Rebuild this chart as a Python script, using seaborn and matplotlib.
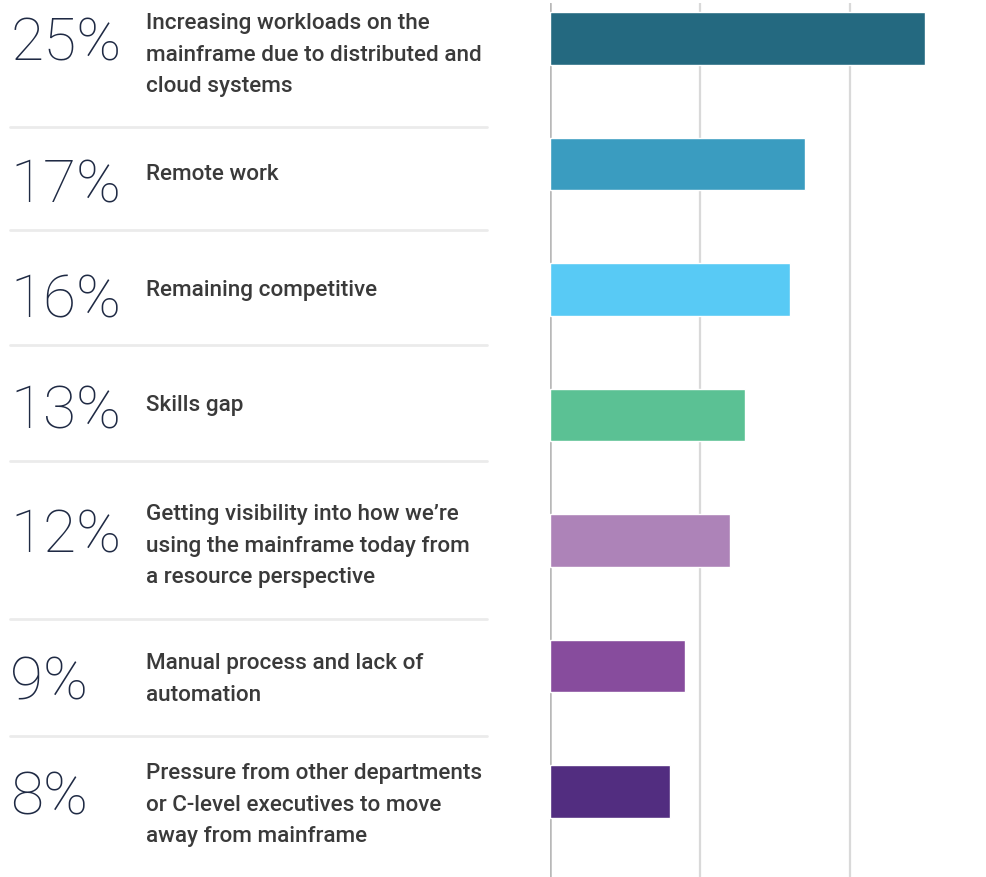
import numpy as np
import pandas as pd
import matplotlib
matplotlib.use("Agg")
import matplotlib.pyplot as plt
import seaborn as sns

# Dane z wykresu (% odpowiedzi)
udzialy = [25, 17, 16, 13, 12, 9, 8]
etykiety = [
    "Increasing workloads on the\nmainframe due to distributed and\ncloud systems",
    "Remote work",
    "Remaining competitive",
    "Skills gap",
    "Getting visibility into how we\u2019re\nusing the mainframe today from\na resource perspective",
    "Manual process and lack of\nautomation",
    "Pressure from other departments\nor C-level executives to move\naway from mainframe",
]
kolory = ["#246980", "#3A9CC0", "#58CAF5", "#5BC194", "#AD83B8", "#874C9D", "#522D80"]

# Uklad tabeli po lewej (piksele od gory)
srodek_proc = [38, 180, 295, 406, 530, 677, 792]
gora_etykiety = [13, 164, 280, 395, 504, 653, 763]
separatory = [128, 231, 346, 462, 620, 737]

df = pd.DataFrame({"Odsetek": udzialy, "Powod": etykiety})

sns.set_theme(style="white")
plt.rcParams["font.family"] = ["Roboto", "DejaVu Sans"]

W, H = 986, 878
fig = plt.figure(figsize=(W / 100, H / 100), dpi=100)

ax = fig.add_axes([550 / W, 0, 436 / W, 874 / H])
sns.barplot(data=df, x="Odsetek", y="Powod", hue="Powod", palette=kolory,
            orient="h", width=0.42, legend=False, ax=ax, saturation=1)
ax.set_xlim(0, 436 / 15)
ax.set_ylim(len(udzialy) - 1 + 0.68, -0.283)
ax.set_xticks([10, 20])
ax.grid(axis="x", color="#d9d9d9", linewidth=1.6)
ax.grid(axis="y", visible=False)
ax.set_axisbelow(True)
ax.axvline(0, color="#b8b8b8", linewidth=1.8, zorder=0.5)
ax.set_xticklabels([])
ax.set_yticklabels([])
ax.tick_params(length=0)
ax.set_xlabel("")
ax.set_ylabel("")
for s in ax.spines.values():
    s.set_visible(False)


def fy(px):
    return 1 - px / H


for i, (val, lab) in enumerate(zip(udzialy, etykiety)):
    fig.text(10 / W, fy(srodek_proc[i]), f"{val}%", ha="left", va="center_baseline",
             fontsize=43.5, fontweight="light", color="#1f2a44")
    fig.text(146 / W, fy(gora_etykiety[i]), lab, ha="left", va="top",
             fontsize=16.2, fontweight="medium", color="#3a3a3a", linespacing=1.66)

for yy in separatory:
    fig.add_artist(plt.Line2D([10 / W, 487 / W], [fy(yy), fy(yy)],
                              color="#ebebeb", linewidth=2))

fig.savefig("out.png", dpi=100)
